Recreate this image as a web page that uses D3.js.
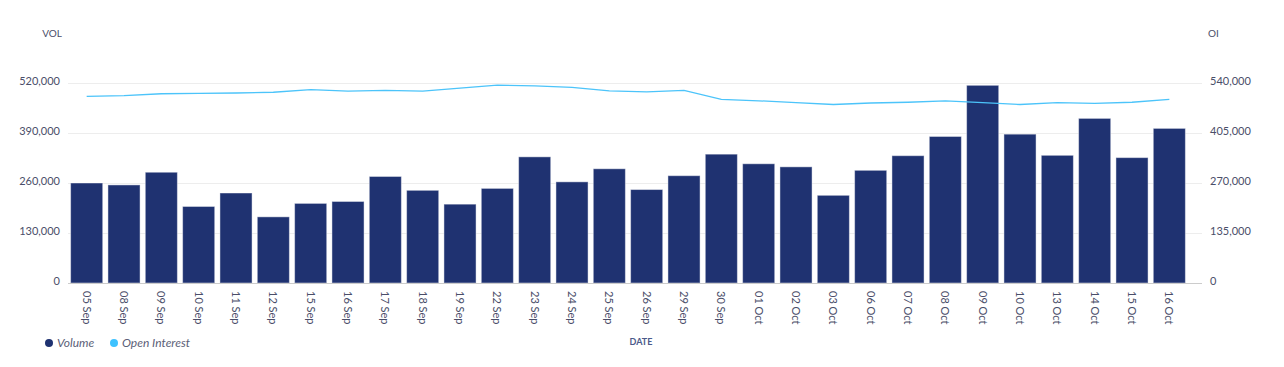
<!DOCTYPE html>
<html>
<head>
<meta charset="utf-8">
<script src="https://cdn.jsdelivr.net/npm/d3@7"></script>
<style>
  html, body { margin: 0; padding: 0; background: #fff; }
  svg { display: block; }
</style>
</head>
<body>
<svg id="chart" width="1284" height="367"></svg>
<script>
const dates = ["05 Sep","08 Sep","09 Sep","10 Sep","11 Sep","12 Sep","15 Sep","16 Sep","17 Sep","18 Sep","19 Sep",
  "22 Sep","23 Sep","24 Sep","25 Sep","26 Sep","29 Sep","30 Sep","01 Oct","02 Oct","03 Oct",
  "06 Oct","07 Oct","08 Oct","09 Oct","10 Oct","13 Oct","14 Oct","15 Oct","16 Oct"];
const volume = [260000,255000,288000,199000,234000,172000,207000,212000,277000,241000,205000,
  246000,328000,263000,297000,243000,279000,335000,310000,302000,228000,
  293000,331000,381000,514000,387000,332000,428000,326000,402000];
const openInterest = [504000,506000,511000,512000,513000,515000,522000,518000,520000,518000,526000,
  534000,532000,528000,519000,516000,520000,496000,492000,487000,482000,
  486000,488000,492000,487000,482000,487000,485000,488000,496000];
const volTicks = [0,130000,260000,390000,520000];
const oiTicks = [0,135000,270000,405000,540000];

(function () {
const svg = d3.select("#chart");
const plotTop = 83, plotBottom = 283, plotLeft = 68, plotRight = 1188, gridRight = 1202;
const tickFont = "Lato, 'Open Sans', sans-serif";
const textColor = "#4a4e69";

const x = d3.scaleBand().domain(dates).range([plotLeft, plotRight]).paddingInner(0.14).paddingOuter(0.07);
const yVol = d3.scaleLinear().domain([0, 520000]).range([plotBottom, plotTop]);
const yOI = d3.scaleLinear().domain([0, 540000]).range([plotBottom, plotTop]);

// gridlines
svg.append("g").selectAll("line").data(volTicks.filter(d => d > 0)).join("line")
  .attr("x1", plotLeft).attr("x2", gridRight)
  .attr("y1", d => yVol(d) + 0.5).attr("y2", d => yVol(d) + 0.5)
  .attr("stroke", "#ededed").attr("stroke-width", 1);

// left axis
const fmt = d3.format(",");
const gl = svg.append("g").attr("transform", `translate(${plotLeft},0)`)
  .call(d3.axisLeft(yVol).tickValues(volTicks).tickFormat(fmt).tickSize(0).tickPadding(8));
gl.select(".domain").remove();
gl.selectAll("text").attr("font-family", tickFont).attr("font-size", 11).attr("fill", textColor).attr("dy", "0.1em");

// right axis
const gr = svg.append("g").attr("transform", `translate(${gridRight},0)`)
  .call(d3.axisRight(yOI).tickValues(oiTicks).tickFormat(fmt).tickSize(0).tickPadding(8));
gr.select(".domain").remove();
gr.selectAll("text").attr("font-family", tickFont).attr("font-size", 11).attr("fill", textColor).attr("dy", "0.1em");

// bars
svg.append("g").selectAll("rect").data(volume).join("rect")
  .attr("x", (d, i) => x(dates[i]))
  .attr("width", x.bandwidth())
  .attr("y", d => yVol(d))
  .attr("height", d => plotBottom - yVol(d))
  .attr("fill", "#1f3271")
  .attr("stroke", "#ffffff").attr("stroke-opacity", 0.45).attr("stroke-width", 1);

// bottom axis
svg.append("line").attr("x1", plotLeft).attr("x2", gridRight).attr("y1", plotBottom + 0.5).attr("y2", plotBottom + 0.5)
  .attr("stroke", "#cccccc").attr("stroke-width", 1);

const gx = svg.append("g").attr("transform", `translate(0,${plotBottom})`)
  .call(d3.axisBottom(x).tickSize(0).tickPadding(0));
gx.select(".domain").remove();
gx.selectAll("text")
  .attr("font-family", tickFont).attr("font-size", 11).attr("fill", textColor)
  .attr("text-anchor", "start")
  .attr("transform", "translate(0,8) rotate(90)")
  .attr("x", 0).attr("y", 0).attr("dy", "0.35em");

// line
const line = d3.line()
  .x((d, i) => x(dates[i]) + x.bandwidth() / 2)
  .y(d => yOI(d));
svg.append("path").datum(openInterest)
  .attr("d", line).attr("fill", "none")
  .attr("stroke", "#4cc4fa").attr("stroke-width", 1.3);

// axis titles
svg.append("text").attr("x", 62).attr("y", 37).attr("text-anchor", "end")
  .attr("font-family", tickFont).attr("font-size", 10).attr("fill", textColor).text("VOL");
svg.append("text").attr("x", 1208).attr("y", 37).attr("text-anchor", "start")
  .attr("font-family", tickFont).attr("font-size", 10).attr("fill", textColor).text("OI");
svg.append("text").attr("x", 641).attr("y", 345).attr("text-anchor", "middle")
  .attr("font-family", tickFont).attr("font-size", 9).attr("font-weight", "bold").attr("fill", "#4a5a8a").text("DATE");

// legend
const legend = [{name: "Volume", color: "#1f3271"}, {name: "Open Interest", color: "#3ec2ff"}];
const lx = [49, 114];
const lg = svg.append("g").selectAll("g").data(legend).join("g")
  .attr("transform", (d, i) => `translate(${lx[i]},343)`);
lg.append("circle").attr("r", 4).attr("fill", d => d.color);
lg.append("text").attr("x", 8).attr("dy", "0.35em")
  .attr("font-family", tickFont).attr("font-style", "italic").attr("font-size", 12)
  .attr("fill", "#5b6077").text(d => d.name);
})();
</script>
</body>
</html>
